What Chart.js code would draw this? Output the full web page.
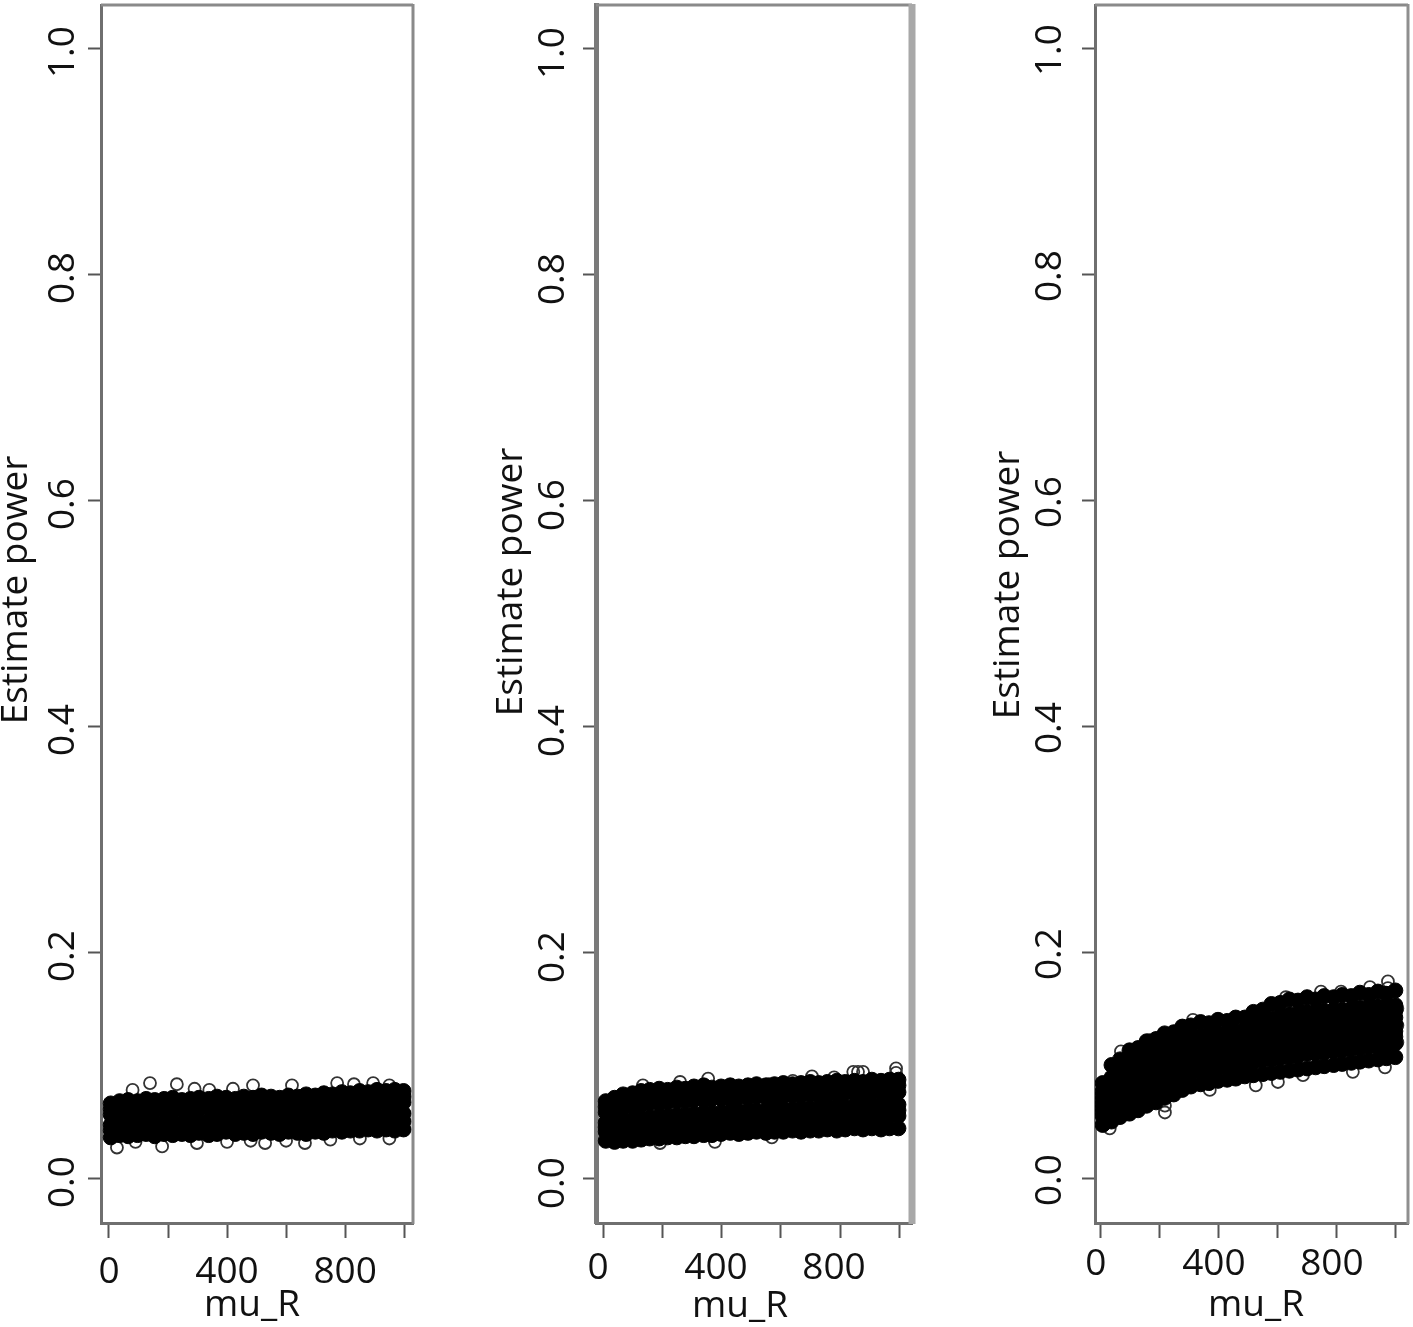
<!DOCTYPE html>
<html><head><meta charset="utf-8">
<script src="https://cdn.jsdelivr.net/npm/chart.js@4"></script>
<style>
html,body{margin:0;padding:0;background:#fff;width:1413px;height:1327px;overflow:hidden}
.p{position:absolute;top:0;height:1327px;filter:blur(.6px)}
</style></head><body>
<div class="p" id="a" style="left:0;width:450px"><canvas id="c0"></canvas></div>
<div class="p" id="b" style="left:480px;width:450px"><canvas id="c1"></canvas></div>
<div class="p" id="c" style="left:973px;width:440px"><canvas id="c2"></canvas></div>
<script>
const yTitle = "Estimate power";
const xTitle = "mu_R";
const xTickLabels = {0:"0",400:"400",800:"800"};
const muR = [6,36,65,97,126,155,187,216,247,276,305,338,366,397,428,457,488,517,549,578,608,639,668,699,728,757,789,818,849,878,908,939,968,998];

const p1Row1 = [.066,.068,.069,.068,.070,.069,.070,.071,.069,.070,.071,.070,.072,.071,.070,.072,.071,.073,.072,.071,.073,.072,.074,.073,.075,.074,.076,.075,.077,.076,.078,.077,.078,.077];
const p1Row2 = [.061,.063,.064,.064,.065,.065,.065,.065,.065,.065,.066,.066,.066,.066,.066,.067,.067,.067,.067,.067,.068,.067,.069,.068,.070,.069,.070,.070,.071,.071,.072,.072,.072,.072];
const p1Row3 = [.056,.058,.058,.059,.059,.060,.060,.059,.061,.060,.061,.062,.060,.061,.062,.061,.062,.061,.063,.062,.063,.062,.064,.063,.064,.065,.064,.066,.065,.066,.066,.067,.066,.067];
const p1Row4 = [.047,.047,.048,.049,.048,.049,.050,.050,.049,.051,.050,.051,.051,.052,.050,.052,.051,.052,.052,.053,.052,.054,.052,.054,.053,.055,.054,.055,.055,.056,.055,.056,.056,.057];
const p1Row5 = [.042,.043,.043,.044,.044,.043,.045,.044,.044,.045,.045,.045,.045,.046,.045,.046,.045,.047,.046,.046,.047,.047,.046,.048,.047,.048,.048,.049,.049,.049,.049,.050,.049,.050];
const p1Row6 = [.036,.038,.037,.038,.039,.037,.039,.038,.039,.038,.040,.038,.039,.041,.039,.040,.039,.041,.040,.039,.041,.040,.039,.041,.040,.042,.041,.042,.042,.043,.042,.043,.042,.043];
const p1EdgeX = [139,230,488,620,773,895,80,290,340,420,830,950,27,180,298,529,664,90,400,480,600,750,850,950];
const p1EdgeY = [.084,.083,.082,.082,.084,.084,.078,.079,.078,.079,.083,.082,.027,.028,.031,.031,.031,.032,.032,.033,.033,.034,.035,.035];

const p2Row1 = [.068,.071,.074,.075,.077,.078,.079,.078,.080,.079,.081,.082,.080,.081,.082,.081,.082,.083,.082,.083,.084,.083,.084,.085,.084,.085,.086,.085,.086,.085,.087,.086,.087,.087];
const p2Row2 = [.063,.066,.068,.069,.071,.072,.072,.073,.074,.074,.075,.075,.075,.076,.076,.076,.077,.077,.077,.078,.078,.078,.079,.079,.079,.079,.080,.080,.080,.080,.081,.081,.081,.082];
const p2Row3 = [.058,.060,.062,.063,.065,.066,.066,.067,.068,.068,.069,.069,.070,.070,.070,.071,.071,.072,.071,.072,.072,.073,.073,.074,.073,.074,.074,.075,.075,.074,.075,.076,.075,.076];
const p2Row4 = [.049,.050,.051,.052,.053,.054,.055,.055,.056,.056,.057,.058,.058,.058,.059,.059,.060,.060,.060,.061,.061,.061,.062,.062,.062,.063,.063,.063,.064,.064,.064,.065,.065,.065];
const p2Row5 = [.045,.046,.047,.047,.048,.049,.050,.050,.051,.051,.052,.052,.052,.053,.053,.054,.054,.055,.055,.055,.056,.056,.056,.057,.057,.058,.058,.058,.058,.059,.059,.059,.060,.060];
const p2Row6 = [.041,.041,.042,.043,.043,.044,.044,.045,.045,.046,.046,.047,.047,.048,.048,.049,.049,.049,.050,.050,.051,.051,.051,.052,.052,.052,.053,.053,.053,.054,.054,.054,.055,.055];
const p2Row7 = [.033,.032,.033,.033,.034,.035,.035,.036,.036,.037,.037,.038,.038,.039,.040,.039,.040,.041,.040,.041,.041,.042,.041,.042,.042,.043,.042,.043,.044,.043,.044,.043,.044,.044];
const p2EdgeX = [258,132,353,861,845,878,990,990,705,376,569,190,560,640,780];
const p2EdgeY = [.085,.082,.088,.094,.094,.094,.097,.093,.090,.032,.036,.031,.083,.086,.089];

const p3Row1 = [.084,.100,.105,.113,.115,.121,.123,.128,.129,.134,.135,.138,.137,.140,.139,.142,.142,.147,.149,.154,.155,.158,.157,.160,.158,.161,.160,.162,.161,.164,.162,.165,.163,.166];
const p3Row2 = [.077,.089,.096,.101,.105,.109,.112,.116,.119,.122,.125,.126,.127,.128,.129,.130,.132,.135,.138,.141,.144,.145,.146,.147,.147,.148,.149,.149,.150,.151,.151,.152,.152,.153];
const p3Row3 = [.073,.085,.090,.096,.100,.104,.106,.110,.113,.117,.119,.120,.122,.123,.124,.125,.126,.130,.132,.135,.137,.138,.140,.141,.141,.142,.143,.143,.144,.145,.145,.146,.146,.148];
const p3Row4 = [.069,.080,.085,.090,.094,.098,.101,.105,.108,.111,.114,.115,.116,.118,.119,.120,.121,.124,.127,.129,.131,.132,.133,.134,.135,.136,.137,.137,.138,.139,.139,.140,.141,.142];
const p3Row5 = [.065,.075,.080,.085,.088,.092,.096,.100,.103,.106,.108,.110,.111,.112,.113,.114,.116,.118,.121,.123,.125,.126,.127,.128,.129,.130,.131,.131,.132,.133,.133,.134,.135,.136];
const p3Row6 = [.062,.070,.075,.079,.082,.086,.090,.094,.097,.100,.103,.104,.105,.107,.108,.109,.111,.113,.115,.117,.119,.120,.121,.122,.123,.124,.125,.125,.126,.127,.128,.128,.129,.130];
const p3Row7 = [.058,.065,.070,.073,.077,.081,.084,.088,.091,.094,.098,.099,.100,.102,.103,.104,.106,.108,.110,.111,.112,.114,.115,.116,.117,.118,.118,.119,.120,.121,.122,.122,.123,.125];
const p3Row8 = [.055,.060,.064,.068,.071,.075,.078,.082,.085,.089,.092,.094,.095,.097,.098,.099,.101,.102,.104,.105,.106,.107,.108,.110,.110,.111,.112,.113,.114,.115,.116,.116,.117,.119];
const p3Row9 = [.047,.050,.054,.057,.060,.064,.067,.071,.074,.078,.081,.083,.084,.086,.087,.088,.090,.091,.092,.093,.094,.095,.096,.097,.098,.099,.100,.101,.102,.103,.104,.105,.106,.107];
const p3EdgeX = [68,166,312,627,746,814,912,973,973,30,217,217,369,525,600,685,854,963,1005,1005,1005];
const p3EdgeY = [.112,.122,.140,.160,.165,.165,.169,.174,.168,.044,.058,.064,.078,.082,.085,.091,.094,.098,.150,.135,.120];

const panels = [
 {id:"c0",rows:[p1Row1,p1Row2,p1Row3,p1Row4,p1Row5,p1Row6],ex:p1EdgeX,ey:p1EdgeY,xmin:-27,xmax:1030,left:101,right:37,
  leftW:3,leftC:"#6f6f6f",rightW:3,rightC:"#8a8a8a",xOff:0,xPad:12,yOff:4,yPad:-1,ty:[16,590],tx:[252,1305]},
 {id:"c1",rows:[p2Row1,p2Row2,p2Row3,p2Row4,p2Row5,p2Row6,p2Row7],ex:p2EdgeX,ey:p2EdgeY,xmin:-27,xmax:1044,left:116,right:18,
  leftW:5,leftC:"#7a7a7a",rightW:7,rightC:"#a8a8a8",xOff:-6,xPad:8,yOff:5,yPad:4,ty:[31,582],tx:[260,1306]},
 {id:"c2",rows:[p3Row1,p3Row2,p3Row3,p3Row4,p3Row5,p3Row6,p3Row7,p3Row8,p3Row9],ex:p3EdgeX,ey:p3EdgeY,xmin:-20,xmax:1041,left:122,right:5,
  leftW:3,leftC:"#6f6f6f",rightW:3,rightC:"#8f8f8f",xOff:-5,xPad:4,yOff:2,yPad:6,ty:[35,585],tx:[283,1305]}
];
const fontFam = "'Open Sans'";
const frameAndTitles = {
  id:"frameAndTitles",
  afterDraw(chart){
    const p = chart.options.plugins.frameAndTitles, a = chart.chartArea, c = chart.ctx;
    c.save();
    c.strokeStyle="#8a8a8a"; c.lineWidth=3;
    c.beginPath(); c.moveTo(a.left,a.top); c.lineTo(a.right,a.top); c.stroke();
    c.strokeStyle=p.rightC; c.lineWidth=p.rightW;
    c.beginPath(); c.moveTo(a.right,a.top-1); c.lineTo(a.right,a.bottom+1); c.stroke();
    c.fillStyle="#111"; c.textAlign="center"; c.textBaseline="middle";
    c.font="37px "+fontFam;
    c.fillText(chart.options.scales.x.title.text,p.tx[0],p.tx[1]);
    c.translate(p.ty[0],p.ty[1]); c.rotate(-Math.PI/2);
    c.fillText(chart.options.scales.y.title.text,0,0);
    c.restore();
  }
};
panels.forEach(p=>{
  const datasets = p.rows.map(r=>({
    data:r.map((v,i)=>({x:muR[i],y:v})),
    pointRadius:7.5,pointBorderWidth:1,pointBackgroundColor:"#000",pointBorderColor:"#000"
  }));
  datasets.push({
    data:p.ex.map((x,i)=>({x:x,y:p.ey[i]})),
    pointRadius:6,pointBorderWidth:1.8,pointBackgroundColor:"rgba(0,0,0,0)",pointBorderColor:"#333"
  });
  new Chart(document.getElementById(p.id),{
    type:"scatter",
    data:{datasets},
    options:{
      responsive:true,maintainAspectRatio:false,animation:false,
      layout:{autoPadding:false,padding:{top:5,right:p.right,bottom:0,left:0}},
      plugins:{legend:{display:false},tooltip:{enabled:false},
        frameAndTitles:{rightW:p.rightW,rightC:p.rightC,tx:p.tx,ty:p.ty}},
      scales:{
        x:{type:"linear",min:p.xmin,max:p.xmax,
          afterFit(s){s.height=1327-1223;s.paddingLeft=0;s.paddingRight=0;},
          title:{display:false,text:xTitle},
          grid:{display:true,drawOnChartArea:false,drawTicks:true,tickLength:15,tickColor:"#555",tickWidth:2},
          border:{display:true,color:"#6f6f6f",width:3},
          ticks:{stepSize:200,includeBounds:false,autoSkip:false,maxRotation:0,minRotation:0,
            labelOffset:p.xOff,padding:p.xPad,color:"#111",font:{family:fontFam,size:37},
            callback:v=>xTickLabels[v]||""}},
        y:{type:"linear",min:-0.0398,max:1.0381,
          afterFit(s){s.width=p.left;s.paddingTop=0;s.paddingBottom=0;},
          title:{display:false,text:yTitle},
          grid:{display:true,drawOnChartArea:false,drawTicks:true,tickLength:13,tickColor:"#555",tickWidth:2},
          border:{display:true,color:p.leftC,width:p.leftW},
          ticks:{stepSize:0.2,includeBounds:false,autoSkip:false,minRotation:90,maxRotation:90,crossAlign:"center",
            labelOffset:p.yOff,padding:p.yPad,color:"#111",font:{family:fontFam,size:37},
            callback:v=>v.toFixed(1)}}
      }
    },
    plugins:[frameAndTitles]
  });
});
</script></body></html>
